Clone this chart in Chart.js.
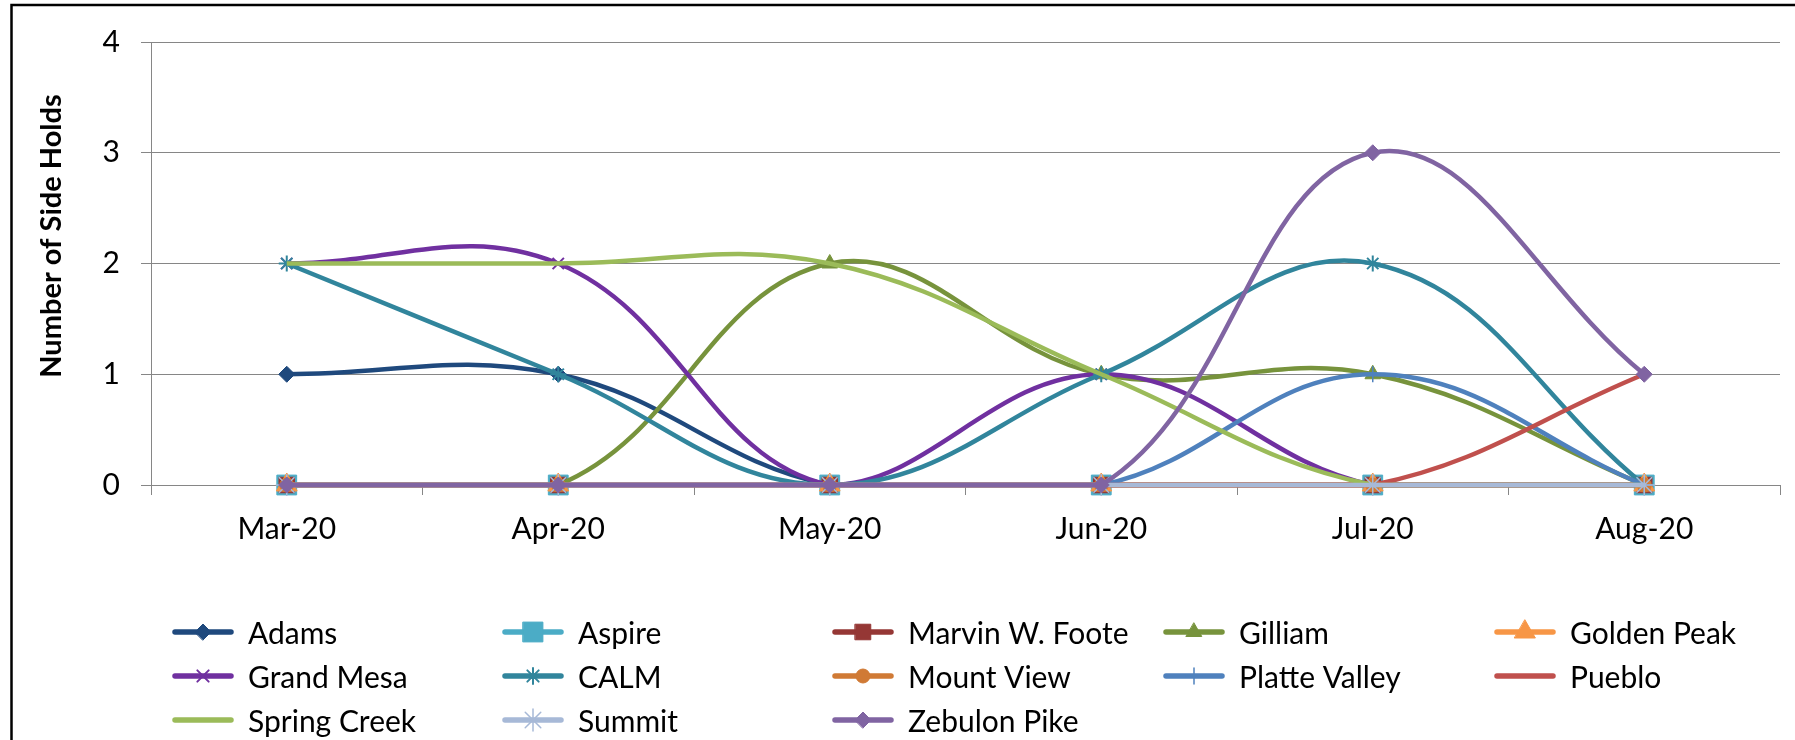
<!DOCTYPE html>
<html>
<head>
<meta charset="utf-8">
<script src="https://cdn.jsdelivr.net/npm/chart.js@4.4.0/dist/chart.umd.min.js"></script>
<style>
  html, body { margin: 0; padding: 0; background: #fff; }
</style>
</head>
<body>
<canvas id="canva" width="1795" height="740"></canvas>
<script>
const months = ["Mar-20", "Apr-20", "May-20", "Jun-20", "Jul-20", "Aug-20"];
const yTicks = [0, 1, 2, 3, 4];

const adams = [1, 1, 0, 0, 0, 0];
const aspire = [0, 0, 0, 0, 0, 0];
const marvinFoote = [0, 0, 0, 0, 0, 0];
const gilliam = [0, 0, 2, 1, 1, 0];
const goldenPeak = [0, 0, 0, 0, 0, 0];
const grandMesa = [2, 2, 0, 1, 0, 0];
const calm = [2, 1, 0, 1, 2, 0];
const mountView = [0, 0, 0, 0, 0, 0];
const platteValley = [0, 0, 0, 0, 1, 0];
const pueblo = [0, 0, 0, 0, 0, 1];
const springCreek = [2, 2, 2, 1, 0, 0];
const summit = [0, 0, 0, 0, 0, 0];
const zebulonPike = [0, 0, 0, 0, 3, 1];

const names = ["Adams", "Aspire", "Marvin W. Foote", "Gilliam", "Golden Peak",
  "Grand Mesa", "CALM", "Mount View", "Platte Valley", "Pueblo",
  "Spring Creek", "Summit", "Zebulon Pike"];
const values = [adams, aspire, marvinFoote, gilliam, goldenPeak,
  grandMesa, calm, mountView, platteValley, pueblo,
  springCreek, summit, zebulonPike];

// colour, marker, marker radius, marker line width
const styles = [
  ["#1F497D", "rectRot", 8, 1],
  ["#4BACC6", "rect", 14, 1],
  ["#953735", "rect", 11, 1],
  ["#77933C", "triangle", 9, 1],
  ["#F79646", "triangle", 12, 1],
  ["#7030A0", "crossRot", 8, 2],
  ["#31859C", "star", 8, 2],
  ["#D07A35", "circle", 7, 1],
  ["#4F81BD", "cross", 8, 1.5],
  ["#C0504D", false, 0, 0],
  ["#9BBB59", false, 0, 0],
  ["#A7B9D7", "star", 11, 1.5],
  ["#8064A2", "rectRot", 8, 1]
];

const FONT = "Lato";
const gridColor = "#868686";

const datasets = names.map((name, i) => ({
  label: name,
  data: values[i],
  borderColor: styles[i][0],
  backgroundColor: styles[i][0],
  pointBackgroundColor: styles[i][0],
  pointBorderColor: styles[i][0],
  pointStyle: styles[i][1],
  pointRadius: styles[i][2],
  pointBorderWidth: styles[i][3],
  borderWidth: 4.5,
  tension: 0.4,
  clip: false,
  order: names.length - i
}));

// legend laid out as a 5 column grid under the plot
const legendCols = [175, 505, 835, 1166, 1497];
const legendRows = [634, 678, 722];

const extras = {
  id: "extras",
  afterDraw(chart) {
    const ctx = chart.ctx;
    ctx.save();
    ctx.strokeStyle = "#000";
    ctx.lineWidth = 2.5;
    ctx.strokeRect(11.5, 5, 2000, 1000);

    ctx.translate(52, 236);
    ctx.rotate(-Math.PI / 2);
    ctx.fillStyle = "#000";
    ctx.font = "bold 29px " + FONT;
    ctx.textAlign = "center";
    ctx.textBaseline = "middle";
    ctx.fillText("Number of Side Holds", 0, 0);
    ctx.restore();

    chart.data.datasets.forEach((ds, i) => {
      const x = legendCols[i % 5];
      const y = legendRows[Math.floor(i / 5)];
      ctx.save();
      ctx.strokeStyle = ds.borderColor;
      ctx.lineWidth = 5.5;
      ctx.lineCap = "round";
      ctx.beginPath();
      ctx.moveTo(x, y - 2);
      ctx.lineTo(x + 56, y - 2);
      ctx.stroke();
      if (ds.pointStyle) {
        ctx.fillStyle = ds.pointBackgroundColor;
        ctx.lineWidth = ds.pointBorderWidth;
        Chart.helpers.drawPoint(ctx, {
          pointStyle: ds.pointStyle,
          radius: ds.pointRadius,
          rotation: 0,
          borderWidth: ds.pointBorderWidth
        }, x + 28, y - 2);
      }
      ctx.fillStyle = "#000";
      ctx.font = "30px " + FONT;
      ctx.textAlign = "left";
      ctx.textBaseline = "middle";
      ctx.fillText(ds.label, x + 73, y);
      ctx.restore();
    });
  }
};

const config = {
  type: "line",
  data: { labels: months, datasets: datasets },
  options: {
    responsive: false,
    animation: false,
    layout: { padding: { left: 0, top: 42, right: -1, bottom: 0 } },
    plugins: {
      legend: { display: false },
      tooltip: { enabled: false }
    },
    scales: {
      x: {
        offset: true,
        grid: {
          offset: true,
          drawOnChartArea: false,
          drawTicks: true,
          tickLength: 10,
          color: gridColor
        },
        border: { color: gridColor, width: 1 },
        ticks: { color: "#000", font: { family: FONT, size: 30 }, padding: 16, maxRotation: 0 },
        afterFit(scale) {
          scale.height = 255;
          scale.paddingLeft = 0;
          scale.paddingRight = 0;
        }
      },
      y: {
        min: 0,
        max: 4,
        afterBuildTicks(scale) { scale.ticks = yTicks.map(v => ({ value: v })); },
        grid: { color: gridColor, tickLength: 10 },
        border: { color: gridColor, width: 1 },
        ticks: { color: "#000", font: { family: FONT, size: 30 }, padding: 21 },
        afterFit(scale) {
          scale.width = 151;
          scale.paddingTop = 0;
          scale.paddingBottom = 0;
        }
      }
    }
  },
  plugins: [extras]
};

const myChart = new Chart(document.getElementById("canva"), config);
</script>
</body>
</html>
